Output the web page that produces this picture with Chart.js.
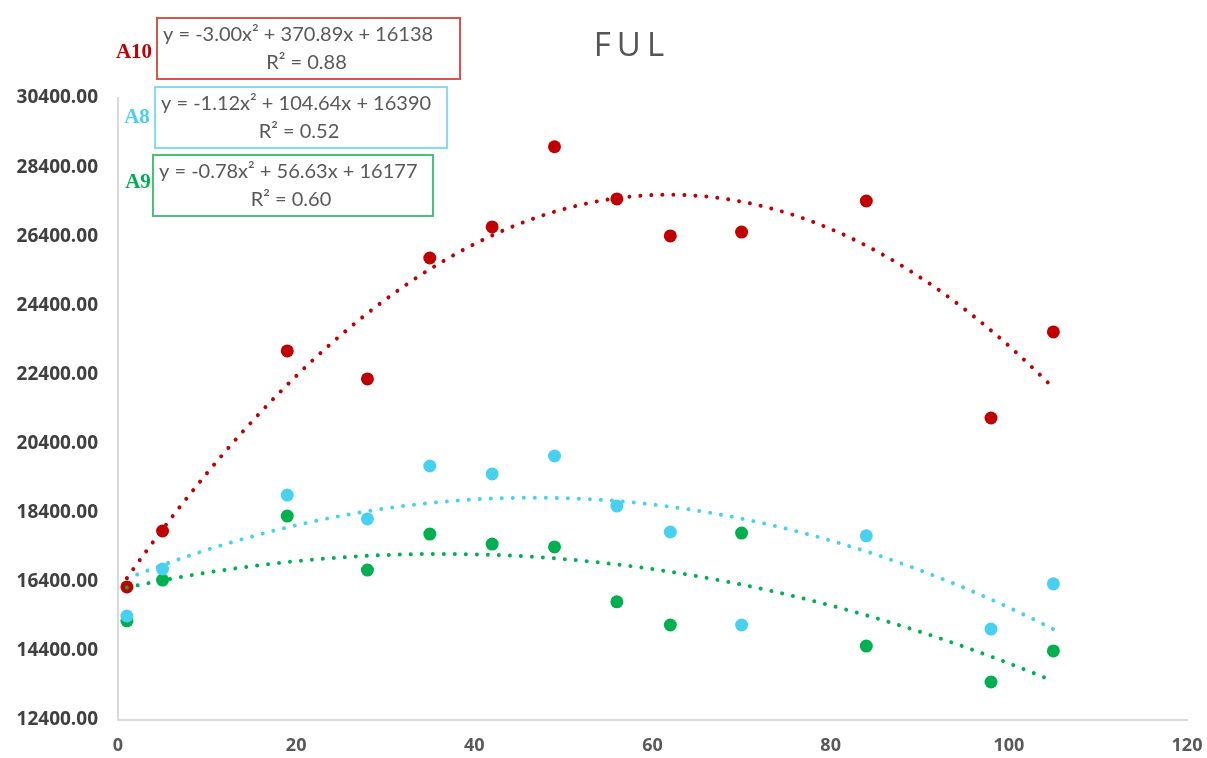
<!DOCTYPE html>
<html>
<head>
<meta charset="utf-8">
<script src="https://cdn.jsdelivr.net/npm/chart.js@4"></script>
<style>
html,body{margin:0;padding:0;background:#fff;}
#wrap{width:1207px;height:758px;position:relative;}
</style>
</head>
<body>
<div id="wrap"><canvas id="c" width="1207" height="758"></canvas></div>
<script>
// ---- data ----
const xValues = [1, 5, 19, 28, 35, 42, 49, 56, 62, 70, 84, 98, 105];
const a10Values = [16250, 17870, 23080, 22270, 25770, 26670, 28990, 27480, 26410, 26520, 27420, 21140, 23630];
const a8Values  = [15410, 16770, 18910, 18220, 19750, 19520, 20040, 18590, 17840, 15150, 17730, 15030, 16340];
const a9Values  = [15270, 16450, 18300, 16740, 17780, 17490, 17410, 15820, 15150, 17810, 14540, 13500, 14400];
const seriesNames = ['A10', 'A8', 'A9'];
// trendline coefficients as printed on the chart: y = a x^2 + b x + c
const a10Trend = [-3.00, 370.89, 16138];
const a8Trend  = [-1.12, 104.64, 16390];
const a9Trend  = [-0.78, 56.63, 16177];
const trendLabels = ['y = -3.00x\u00B2 + 370.89x + 16138', 'y = -1.12x\u00B2 + 104.64x + 16390', 'y = -0.78x\u00B2 + 56.63x + 16177'];
const r2Labels = ['R\u00B2 = 0.88', 'R\u00B2 = 0.52', 'R\u00B2 = 0.60'];
const yTicks = [12400, 14400, 16400, 18400, 20400, 22400, 24400, 26400, 28400, 30400];
const xTicks = [0, 20, 40, 60, 80, 100, 120];
const titleText = 'FUL';

const colors = ['#C00000', '#48D0F0', '#00B050'];
const boxColors = ['#D9534F', '#7FDDF6', '#4CC07A'];

function pts(ys) { return xValues.map((x, i) => ({x: x, y: ys[i]})); }
function trendPts(c) {
  const out = [];
  const x0 = xValues[0], x1 = xValues[xValues.length - 1];
  for (let x = x0; x <= x1; x += 0.5) out.push({x: x, y: c[0]*x*x + c[1]*x + c[2]});
  return out;
}

function trendDs(c, col) {
  return {
    data: trendPts(c), showLine: true, pointRadius: 0, pointHoverRadius: 0,
    borderColor: col, borderWidth: 4, borderDash: [0.01, 11], borderCapStyle: 'round',
    tension: 0, fill: false, order: 0
  };
}
function pointDs(label, ys, col) {
  return {
    label: label, data: pts(ys), showLine: false, pointRadius: 6.5, pointHoverRadius: 6.5,
    pointBackgroundColor: col, pointBorderColor: col, pointBorderWidth: 0, order: 1
  };
}

const annotPlugin = {
  id: 'annot',
  afterDraw(chart) {
    const ctx = chart.ctx;
    ctx.save();
    // title
    ctx.fillStyle = '#555555';
    ctx.font = '33px "Open Sans", sans-serif';
    ctx.textAlign = 'center';
    ctx.textBaseline = 'middle';
    try { ctx.letterSpacing = '6px'; } catch(e) {}
    ctx.fillText(titleText, 632, 47);
    try { ctx.letterSpacing = '0px'; } catch(e) {}
    // equation boxes
    const boxes = [
      {x: 157, y: 18, w: 303, h: 61, lx: 134, ly: 53},
      {x: 155, y: 87, w: 292, h: 61, lx: 137, ly: 118},
      {x: 153, y: 155, w: 280, h: 61, lx: 138, ly: 183}
    ];
    boxes.forEach((b, i) => {
      ctx.strokeStyle = boxColors[i];
      ctx.lineWidth = 2;
      ctx.strokeRect(b.x, b.y, b.w, b.h);
      ctx.fillStyle = '#595959';
      ctx.font = '20px Lato, sans-serif';
      ctx.textAlign = 'left';
      ctx.textBaseline = 'middle';
      ctx.fillText(trendLabels[i], b.x + 6, b.y + 17);
      ctx.textAlign = 'center';
      ctx.fillText(r2Labels[i], b.x + b.w / 2 - 2, b.y + 45);
      ctx.fillStyle = colors[i];
      ctx.font = 'bold 21px "Liberation Serif", serif';
      ctx.textAlign = 'center';
      ctx.fillText(seriesNames[i], b.lx, b.ly);
    });
    ctx.restore();
  }
};

new Chart(document.getElementById('c'), {
  type: 'scatter',
  data: {
    datasets: [
      trendDs(a10Trend, colors[0]),
      trendDs(a8Trend, colors[1]),
      trendDs(a9Trend, colors[2]),
      pointDs(seriesNames[0], a10Values, colors[0]),
      pointDs(seriesNames[1], a8Values, colors[1]),
      pointDs(seriesNames[2], a9Values, colors[2])
    ]
  },
  options: {
    responsive: false,
    animation: false,
    layout: {padding: {top: 98, right: 20, left: 0, bottom: 0}},
    plugins: {legend: {display: false}, tooltip: {enabled: false}, title: {display: false}},
    scales: {
      x: {
        type: 'linear', min: 0, max: 120,
        afterBuildTicks: (s) => { s.ticks = xTicks.map(v => ({value: v})); },
        afterFit: (s) => { s.height = 38; s.paddingRight = 0; s.paddingLeft = 0; },
        grid: {display: false, drawTicks: false},
        border: {display: true, color: '#D9D9D9', width: 2},
        ticks: {color: '#595959', font: {family: '"Open Sans", sans-serif', size: 18, weight: 'bold'}, padding: 15, maxRotation: 0}
      },
      y: {
        type: 'linear', min: 12400, max: 30400,
        afterBuildTicks: (s) => { s.ticks = yTicks.map(v => ({value: v})); },
        afterFit: (s) => { s.width = 118; s.paddingTop = 0; s.paddingBottom = 0; },
        grid: {display: false, drawTicks: false},
        border: {display: true, color: '#D9D9D9', width: 2},
        ticks: {color: '#404040', font: {family: '"Open Sans", sans-serif', size: 19, weight: 'bold'}, padding: 20,
          callback: (v) => Number(v).toFixed(2)}
      }
    }
  },
  plugins: [annotPlugin]
});
</script>
</body>
</html>
